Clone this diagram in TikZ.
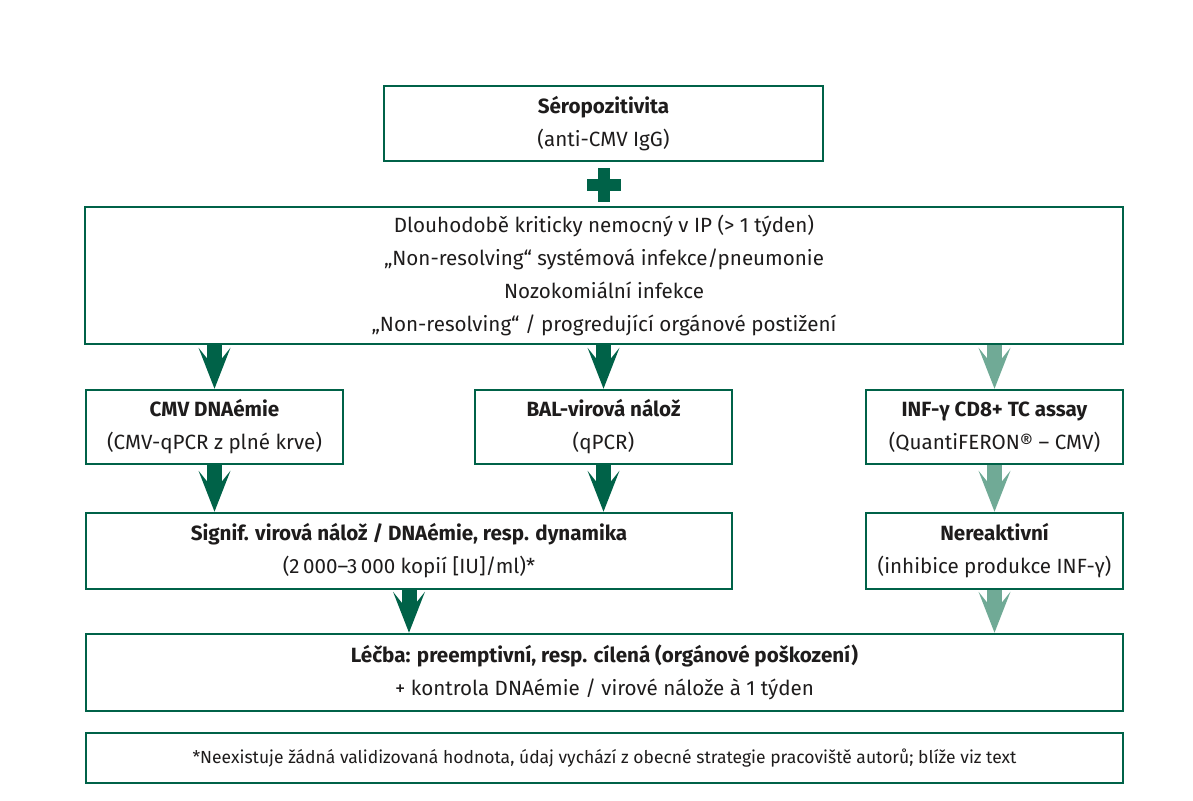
\documentclass[tikz,border=0pt]{standalone}
\usepackage{fontspec}
\setmainfont{Fira Sans}
\usetikzlibrary{arrows.meta}
\definecolor{dkgreen}{RGB}{0,98,72}
\definecolor{ltgreen}{RGB}{112,170,150}
\definecolor{txt}{RGB}{30,28,28}
\begin{document}
\begin{tikzpicture}[x=1pt,y=-1pt,
  box/.style={draw=dkgreen, line width=2.6pt, inner sep=0pt, align=center,
    text=txt, font=\fontsize{20.6}{33}\selectfont},
  flowdk/.style={color=dkgreen, line width=15pt,
    -{Stealth[length=41pt,width=32pt,inset=20pt,line width=0pt]}},
  flowlt/.style={flowdk, color=ltgreen}]
\useasboundingbox (0,0) rectangle (1193,800);
\fill[white] (0,0) rectangle (1193,800);

\node[box, minimum width=439pt, minimum height=75pt] (sero) at (603.5,123.5)
  {\textbf{Séropozitivita}\\(anti-CMV IgG)};
\fill[dkgreen] (598,168) rectangle (610,202);
\fill[dkgreen] (587,179) rectangle (621,191);

\node[box, minimum width=1038pt, minimum height=137pt] (crit) at (604,275.5)
  {Dlouhodobě kriticky nemocný v IP (> 1 týden)\\
   „Non-resolving“ systémová infekce/pneumonie\\
   Nozokomiální infekce\\
   „Non-resolving“ / progredující orgánové postižení};

\node[box, minimum width=257pt, minimum height=74pt] (cmv) at (214.5,427)
  {\textbf{CMV DNAémie}\\(CMV-qPCR z plné krve)};
\node[box, minimum width=257pt, minimum height=74pt] (bal) at (603.5,427)
  {\textbf{BAL-virová nálož}\\(qPCR)};
\node[box, minimum width=257pt, minimum height=74pt] (inf) at (994.5,427)
  {\textbf{INF-γ CD8+ TC assay}\\(QuantiFERON® – CMV)};

\node[box, minimum width=646pt, minimum height=76pt] (sig) at (409,551)
  {\textbf{Signif. virová nálož / DNAémie, resp. dynamika}\\(2\,000–3\,000 kopií [IU]/ml)*};
\node[box, minimum width=257pt, minimum height=76pt] (nere) at (994.5,551)
  {\textbf{Nereaktivní}\\(inhibice produkce INF-γ)};

\node[box, minimum width=1037pt, minimum height=77pt] (lecba) at (604.5,672.5)
  {\textbf{Léčba: preemptivní, resp. cílená (orgánové poškození)}\\+ kontrola DNAémie / virové nálože à 1 týden};

\node[box, minimum width=1037pt, minimum height=50pt, font=\fontsize{17.5}{20}\selectfont] (foot) at (604.5,758)
  {*Neexistuje žádná validizovaná hodnota, údaj vychází z obecné strategie pracoviště autorů; blíže viz text};

\draw[flowdk] (crit.south -| cmv.north) -- (cmv.north);
\draw[flowdk] (crit.south -| bal.north) -- (bal.north);
\draw[flowlt] (crit.south -| inf.north) -- (inf.north);
\draw[flowdk] (cmv.south) -- (cmv.south |- sig.north);
\draw[flowdk] (bal.south) -- (bal.south |- sig.north);
\draw[flowlt] (inf.south) -- (nere.north);
\draw[flowdk] (sig.south) -- (sig.south |- lecba.north);
\draw[flowlt] (nere.south) -- (nere.south |- lecba.north);
\end{tikzpicture}
\end{document}
